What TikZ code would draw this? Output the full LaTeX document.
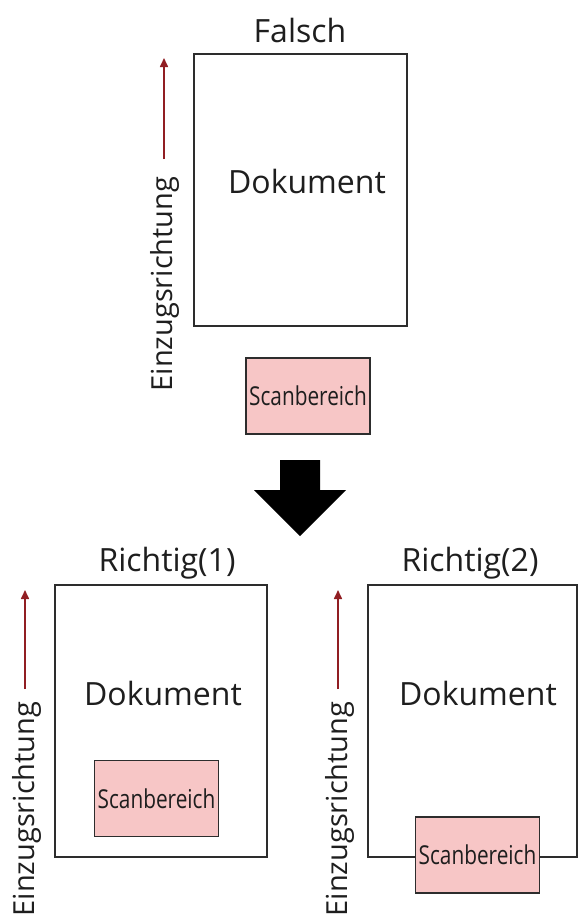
\documentclass[tikz,border=0pt]{standalone}
\usepackage{fontspec}
\setmainfont{Open Sans}
\usetikzlibrary{arrows.meta}
\definecolor{scanpink}{RGB}{247,198,198}
\definecolor{feedred}{RGB}{145,30,35}
\definecolor{boxgray}{RGB}{45,45,45}
\definecolor{txtgray}{RGB}{30,30,30}
\newcommand{\scantxt}{\scalebox{0.8}[1]{Scanbereich}}
\begin{document}
\begin{tikzpicture}[x=1pt,y=-1pt,
  docbox/.style={draw=boxgray, line width=2pt, fill=white, inner sep=0pt, minimum width=#1, minimum height=272pt},
  scanbox/.style={draw=boxgray, line width=1.8pt, fill=scanpink, inner sep=0pt, minimum width=124pt, minimum height=76pt, text=txtgray,
    font=\fontsize{26}{28}\selectfont},
  title/.style={text=txtgray, font=\fontsize{32}{34}\selectfont, inner sep=0pt},
  doklabel/.style={text=txtgray, font=\fontsize{32}{34}\selectfont, inner sep=0pt},
  feedlabel/.style={text=txtgray, font=\fontsize{29}{31}\selectfont, rotate=90, inner sep=0pt},
  feedarrow/.style={draw=feedred, line width=1.6pt, -{Triangle[length=9pt,width=8pt]}}]
\useasboundingbox (0,0) rectangle (580,918);
\fill[white] (0,0) rectangle (580,918);

% top: Falsch
\node[title] (tfalsch) at (300,30) {Falsch};
\node[docbox=213pt] (doc1) at (300.5,190) {};
\node[doklabel] (dok1) at (307,181) {Dokument};
\node[scanbox] (scan1) at (308,396) {\scantxt};
\coordinate (f1s) at (164,159);
\coordinate (f1e) at (164,58);
\draw[feedarrow] (f1s) -- (f1e);
\node[feedlabel] (lab1) at (165,284) {Einzugsrichtung};

% big arrow
\fill[black] (280,460) -- (320,460) -- (320,490) -- (346,490) -- (300,536) -- (254,490) -- (280,490) -- cycle;

% bottom left: Richtig(1)
\node[title] (tr1) at (167,563) {Richtig(1)};
\node[docbox=212pt] (doc2) at (161,721) {};
\node[doklabel] (dok2) at (163,693) {Dokument};
\node[scanbox] (scan2) at (156.5,798.5) {\scantxt};
\coordinate (f2s) at (25,689);
\coordinate (f2e) at (25,590);
\draw[feedarrow] (f2s) -- (f2e);
\node[feedlabel] (lab2) at (27,809) {Einzugsrichtung};

% bottom right: Richtig(2)
\node[title] (tr2) at (470,563) {Richtig(2)};
\node[docbox=209pt] (doc3) at (472.5,721) {};
\node[doklabel] (dok3) at (478,693) {Dokument};
\node[scanbox] (scan3) at (477.5,855) {\scantxt};
\coordinate (f3s) at (338,689);
\coordinate (f3e) at (338,590);
\draw[feedarrow] (f3s) -- (f3e);
\node[feedlabel] (lab3) at (340,809) {Einzugsrichtung};
\end{tikzpicture}
\end{document}
